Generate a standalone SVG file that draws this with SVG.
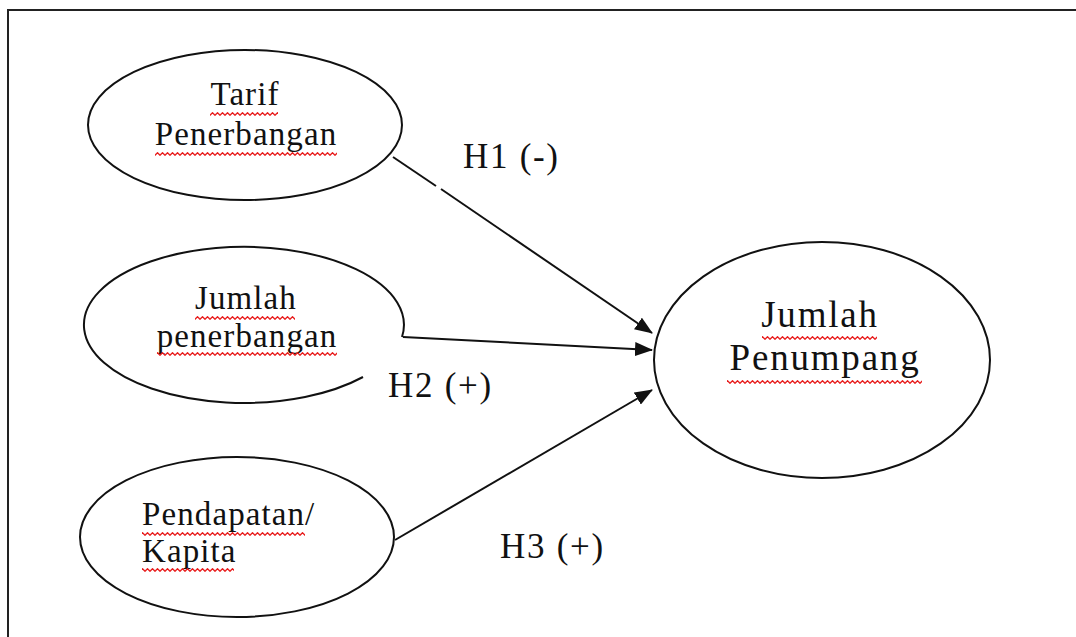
<svg xmlns="http://www.w3.org/2000/svg" width="1076" height="637" viewBox="0 0 1076 637">
<style>
.node{fill:#fff;stroke:#111;stroke-width:2}
.lbl{font-family:"Liberation Serif","Times New Roman",serif;font-size:33px;letter-spacing:1.1px;fill:#111}
.big{font-size:37px;letter-spacing:1.8px}
.hyp{font-family:"Liberation Serif","Times New Roman",serif;font-size:35px;letter-spacing:1.7px;fill:#111}
.edge{stroke:#111;stroke-width:2;fill:none}
.arr{marker-end:url(#ah)}
.sq{fill:url(#sqp)}
</style>
<defs>
<marker id="ah" viewBox="0 0 18 14" refX="17" refY="7" markerWidth="18" markerHeight="14" markerUnits="userSpaceOnUse" orient="auto">
<path d="M0,0 L18,7 L0,14 Z" fill="#111"/>
</marker>
<pattern id="sqp" width="5" height="4" patternUnits="userSpaceOnUse">
<path d="M-2.5,0.8 L0,3.2 L2.5,0.8 L5,3.2 L7.5,0.8" stroke="#e81c1c" stroke-width="1.4" fill="none"/>
</pattern>
</defs>
<rect width="1076" height="637" fill="#fff"/>
<path d="M8,637 L8,10 L1076,10" fill="none" stroke="#222" stroke-width="2"/>

<g id="tarif">
<ellipse class="node" cx="245" cy="125" rx="157" ry="75"/>
<text class="lbl" x="245" y="105" text-anchor="middle">Tarif</text>
<text class="lbl" x="246" y="145" text-anchor="middle">Penerbangan</text>
<rect class="sq" x="210" y="112" width="68" height="4"/>
<rect class="sq" x="155" y="152" width="182" height="4"/>
</g>

<g id="jumlah-penerbangan">
<path class="node" d="M402,337 A160,78 0 1 0 363,377"/>
<text class="lbl" x="246" y="309" text-anchor="middle">Jumlah</text>
<text class="lbl" x="247" y="347" text-anchor="middle">penerbangan</text>
<rect class="sq" x="195" y="316" width="100" height="4"/>
<rect class="sq" x="157" y="352" width="180" height="4"/>
</g>

<g id="pendapatan">
<ellipse class="node" cx="237" cy="537" rx="157" ry="80"/>
<text class="lbl" x="142" y="525">Pendapatan/</text>
<text class="lbl" x="142" y="562">Kapita</text>
<rect class="sq" x="142" y="532" width="163" height="4"/>
<rect class="sq" x="142" y="568" width="92" height="4"/>
</g>

<g id="jumlah-penumpang">
<ellipse class="node" cx="822" cy="360" rx="168" ry="118"/>
<text class="lbl big" x="820" y="327" text-anchor="middle">Jumlah</text>
<text class="lbl big" x="825" y="370" text-anchor="middle">Penumpang</text>
<rect class="sq" x="762" y="336" width="115" height="4"/>
<rect class="sq" x="727" y="380" width="195" height="4"/>
</g>

<g id="connectors">
<path class="edge" d="M393,157 L436,186"/>
<path class="edge arr" d="M441,189 L652,333"/>
<path class="edge arr" d="M403,337 L652,350"/>
<path class="edge arr" d="M395,540 L652,390"/>
<text class="hyp" x="463" y="168">H1 (-)</text>
<text class="hyp" x="388" y="397">H2 (+)</text>
<text class="hyp" x="500" y="558">H3 (+)</text>
</g>
</svg>
